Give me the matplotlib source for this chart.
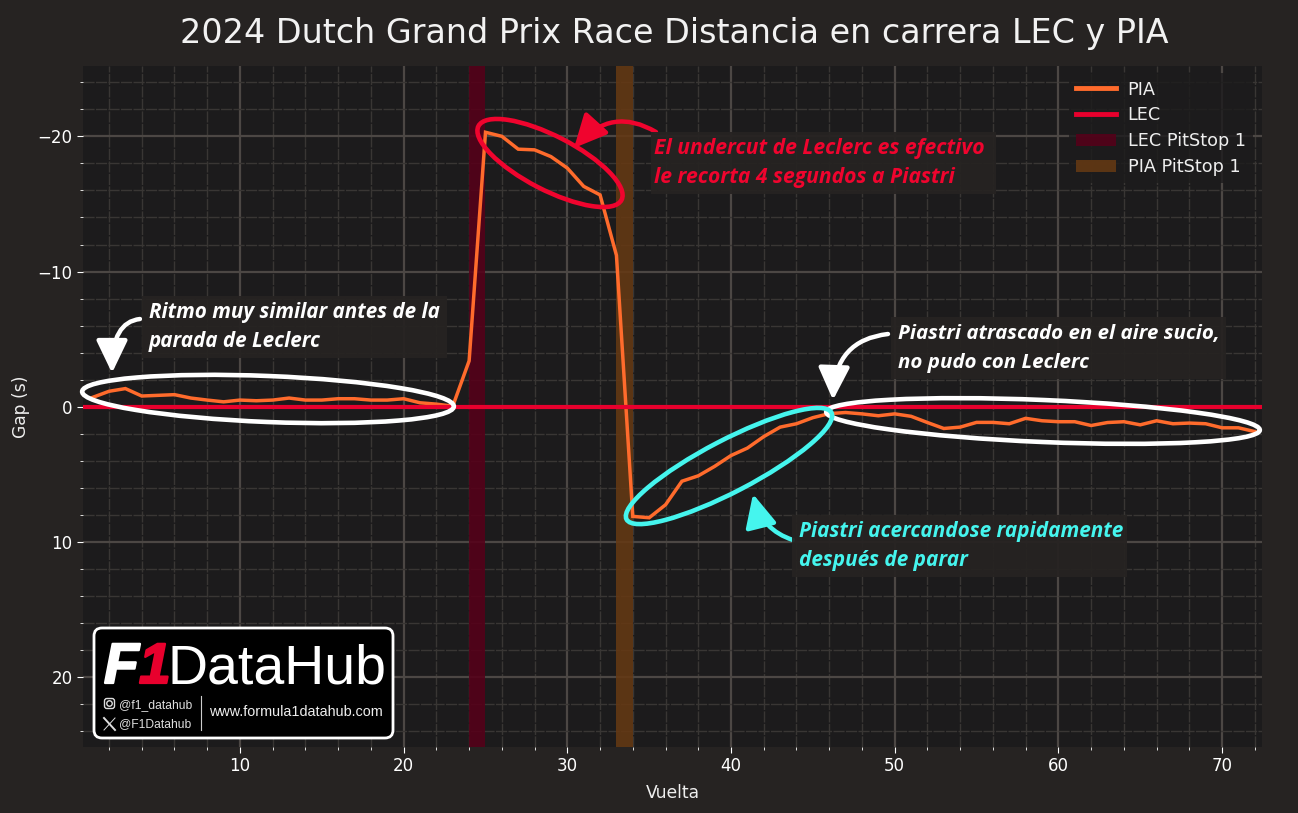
import matplotlib
matplotlib.use("Agg")
import matplotlib.pyplot as plt
import matplotlib.patheffects as pe
from matplotlib.patches import Ellipse, FancyArrowPatch, FancyBboxPatch, Rectangle
from matplotlib.path import Path
from matplotlib.ticker import MultipleLocator

laps = list(range(1, 73))
pia_gap = [
    -0.7, -1.15, -1.35, -0.8, -0.85, -0.9, -0.65, -0.5, -0.37, -0.5,
    -0.45, -0.5, -0.65, -0.5, -0.5, -0.6, -0.6, -0.5, -0.5, -0.6,
    -0.3, -0.2, -0.05, -3.4, -20.3, -20.0, -19.05, -19.0, -18.5, -17.65,
    -16.3, -15.67, -11.2, 8.1, 8.2, 7.24, 5.5, 5.1, 4.4, 3.6,
    3.05, 2.2, 1.5, 1.25, 0.8, 0.5, 0.42, 0.52, 0.66, 0.52,
    0.7, 1.16, 1.6, 1.5, 1.15, 1.15, 1.25, 0.85, 1.03, 1.1,
    1.1, 1.38, 1.16, 1.1, 1.33, 1.03, 1.25, 1.2, 1.25, 1.55,
    1.55, 1.83,
]
lec_pit = (24, 25)
pia_pit = (33, 34)

BG = "#262322"
AX_BG = "#1c1b1c"
PIA_COLOR = "#ff6b2c"
LEC_COLOR = "#e8002d"
ARROW_RED = "#f0042e"
CYAN = "#45f5ee"
WHITE = "#ffffff"
NOTE_FONT = "Open Sans"

fig = plt.figure(figsize=(12.98, 8.13), dpi=100, facecolor=BG)
ax = fig.add_axes([83 / 1298, 66 / 813, 1179 / 1298, 681 / 813], facecolor=AX_BG)

ax.axvspan(*lec_pit, color="#560019", alpha=0.88, lw=0, label="LEC PitStop 1", zorder=2)
ax.axvspan(*pia_pit, color="#653913", alpha=0.88, lw=0, label="PIA PitStop 1", zorder=2)
ax.plot(laps, pia_gap, color=PIA_COLOR, lw=2.5, label="PIA", zorder=3, solid_joinstyle="miter")
ax.axhline(0, color=LEC_COLOR, lw=3, label="LEC", zorder=4)

ax.set_xlim(0.41, 72.44)
ax.set_ylim(25.15, -25.2)
ax.xaxis.set_major_locator(MultipleLocator(10))
ax.xaxis.set_minor_locator(MultipleLocator(2))
ax.yaxis.set_major_locator(MultipleLocator(10))
ax.yaxis.set_minor_locator(MultipleLocator(2))
ax.grid(which="major", color="#4c4744", lw=1.6, zorder=1)
ax.grid(which="minor", color="#393634", lw=1, ls=(0, (8, 1)), zorder=1)
ax.set_axisbelow(True)
ax.tick_params(which="major", colors="white", labelsize=12, length=4)
ax.tick_params(which="minor", colors="white", length=2)
for side in ax.spines:
    ax.spines[side].set_visible(False)

ax.set_xlabel("Vuelta", color="#eeeeee", fontsize=12.3, labelpad=6)
ax.set_ylabel("Gap (s)", color="#eeeeee", fontsize=12.3, labelpad=5.5)
fig.text(674 / 1298, 1 - 33 / 813, "2024 Dutch Grand Prix Race Distancia en carrera LEC y PIA",
         color="#f2f2f2", fontsize=24, ha="center", va="center")

handles, labels = ax.get_legend_handles_labels()
order = [labels.index(name) for name in ("PIA", "LEC", "LEC PitStop 1", "PIA PitStop 1")]
leg = ax.legend([handles[i] for i in order], [labels[i] for i in order],
                loc="upper right", bbox_to_anchor=(0.9995, 1.002), fontsize=12.7,
                facecolor="#1c1b1c", edgecolor="none", framealpha=0.8,
                labelcolor="#eeeeee", labelspacing=0.45, handlelength=2.27, handletextpad=0.66)
leg.get_lines()[0].set_linewidth(3.5)
leg.get_lines()[1].set_linewidth(3.5)

# annotations go on a full-figure overlay measured in pixels
over = fig.add_axes([0, 0, 1, 1], zorder=5)
over.set_xlim(0, 1298)
over.set_ylim(813, 0)
over.axis("off")


def callout(x0, y0, x1, y1, lines, color, inset=7, size=14.9):
    over.add_patch(Rectangle((x0, y0), x1 - x0, y1 - y0, fc=BG, ec="none", alpha=0.95))
    for i, line in enumerate(lines):
        over.text(x0 + inset, y0 + 22 + 29 * i, line, color=color, family=NOTE_FONT, style="italic",
                  weight="bold", fontsize=size, va="baseline")


def ring(cx, cy, w, h, angle, color):
    over.add_patch(Ellipse((cx, cy), w, h, angle=angle, fc="none", ec=color, lw=3.3))


def arrow(tail, ctrl, tip, color):
    curve = Path([tail, ctrl, tip], [Path.MOVETO, Path.CURVE3, Path.CURVE3])
    over.add_patch(FancyArrowPatch(path=curve, arrowstyle="-|>,head_length=1.0,head_width=0.48",
                                   mutation_scale=20, lw=3.2, color=color))


ring(268, 399, 372, 46, 2.3, WHITE)
ring(1043, 421, 434, 42, 2.4, WHITE)
ring(550, 163, 161, 54, 27.3, ARROW_RED)
ring(729, 466, 231, 52, -27.5, CYAN)

arrow((140, 319), (112, 322), (112, 373), WHITE)
arrow((888, 334), (835, 340), (833, 400), WHITE)
arrow((656, 132), (612, 106), (574, 148), ARROW_RED)
arrow((793, 540), (762, 530), (753, 494), CYAN)

callout(142, 296, 447, 358, ["Ritmo muy similar antes de la", "parada de Leclerc"], WHITE)
callout(891, 317, 1226, 379, ["Piastri atrascado en el aire sucio,", "no pudo con Leclerc"], WHITE, size=14.75)
callout(651, 132, 996, 194, ["El undercut de Leclerc es efectivo", "le recorta 4 segundos a Piastri"], ARROW_RED, inset=3, size=15.2)
callout(792, 515, 1127, 577, ["Piastri acercandose rapidamente", "después de parar"], CYAN, size=14.95)

# logo block
over.add_patch(FancyBboxPatch((98, 632), 291, 102, boxstyle="round,pad=4,rounding_size=8",
                              fc="black", ec="white", lw=2))
heavy = [pe.withStroke(linewidth=1.6, foreground="white")]
over.text(104, 683, "F", color="white", family="Liberation Sans", weight="bold",
          style="italic", fontsize=41, va="baseline", path_effects=heavy)
over.text(139, 683, "1", color="#e8002d", family="Liberation Sans", weight="bold",
          style="italic", fontsize=41, va="baseline",
          path_effects=[pe.withStroke(linewidth=1.6, foreground="#e8002d")])
over.text(168, 683, "DataHub", color="white", family="Liberation Sans", fontsize=40,
          va="baseline")
over.text(119, 708, "@f1_datahub", color="#dddddd", family="Liberation Sans", fontsize=8.7,
          va="baseline")
over.text(119, 727, "@F1Datahub", color="#dddddd", family="Liberation Sans", fontsize=8.7,
          va="baseline")
over.text(209, 716, "www.formula1datahub.com", color="#eeeeee", family="Liberation Sans",
          fontsize=10.4, va="baseline")
over.plot([201, 201], [696, 730], color="#cccccc", lw=0.8)
over.add_patch(FancyBboxPatch((105.5, 699.5), 8, 8, boxstyle="round,pad=1,rounding_size=2.5",
                              fc="none", ec="#dddddd", lw=1))
over.add_patch(Ellipse((109.5, 703.5), 5.5, 5.5, fc="none", ec="#dddddd", lw=1))
over.plot([104, 115], [718, 730], color="#dddddd", lw=1.4)
over.plot([115, 104], [718, 730], color="#dddddd", lw=0.7)

fig.savefig("out.png", dpi=100, facecolor=BG)
